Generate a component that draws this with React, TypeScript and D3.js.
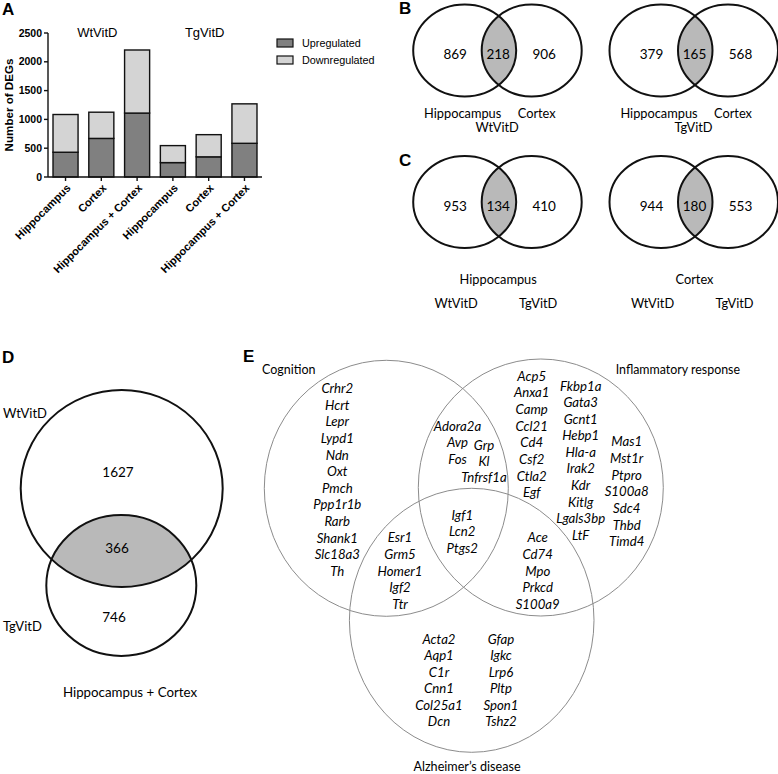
import React from "react";
import * as d3 from "d3";

// ---------- Panel A data ----------
const categories = ["Hippocampus", "Cortex", "Hippocampus + Cortex", "Hippocampus", "Cortex", "Hippocampus + Cortex"];
const upregulated = [430, 670, 1110, 250, 350, 585];
const downregulated = [655, 455, 1095, 295, 385, 685];
const yTicks = [0, 500, 1000, 1500, 2000, 2500];
const groupLabels = ["WtVitD", "TgVitD"];
const legendLabels = ["Upregulated", "Downregulated"];
const yTitle = "Number of DEGs";

// ---------- Panel B / C / D data ----------
const vennBTitles = ["WtVitD", "TgVitD"];
const vennBSets = ["Hippocampus", "Cortex"];
const vennBCounts = [[869, 218, 906], [379, 165, 568]];
const vennCTitles = ["Hippocampus", "Cortex"];
const vennCSets = ["WtVitD", "TgVitD"];
const vennCCounts = [[953, 134, 410], [944, 180, 553]];
const vennDSets = ["WtVitD", "TgVitD"];
const vennDCounts = [1627, 366, 746];
const vennDTitle = "Hippocampus + Cortex";

// ---------- Panel E data ----------
const eSets = ["Cognition", "Inflammatory response", "Alzheimer\u2019s disease"];
const cognitionOnly = ["Crhr2", "Hcrt", "Lepr", "Lypd1", "Ndn", "Oxt", "Pmch", "Ppp1r1b", "Rarb", "Shank1", "Slc18a3", "Th"];
const cogInflamA = ["Adora2a", "Avp", "Fos"];
const cogInflamB = ["Grp", "Kl", "Tnfrsf1a"];
const allThree = ["Igf1", "Lcn2", "Ptgs2"];
const cogAlz = ["Esr1", "Grm5", "Homer1", "Igf2", "Ttr"];
const inflamAlz = ["Ace", "Cd74", "Mpo", "Prkcd", "S100a9"];
const inflamOnly1 = ["Acp5", "Anxa1", "Camp", "Ccl21", "Cd4", "Csf2", "Ctla2", "Egf"];
const inflamOnly2 = ["Fkbp1a", "Gata3", "Gcnt1", "Hebp1", "Hla-a", "Irak2", "Kdr", "Kitlg", "Lgals3bp", "LtF"];
const inflamOnly3 = ["Mas1", "Mst1r", "Ptpro", "S100a8", "Sdc4", "Thbd", "Timd4"];
const alzOnly1 = ["Acta2", "Aqp1", "C1r", "Cnn1", "Col25a1", "Dcn"];
const alzOnly2 = ["Gfap", "Igkc", "Lrp6", "Pltp", "Spon1", "Tshz2"];

const ARIAL = "'Liberation Sans', Arial, sans-serif";
const MYR = "Lato, 'Open Sans', sans-serif";
const FS = 12.8;

function PanelA() {
  const x = d3.scaleBand<number>().domain(d3.range(categories.length)).range([48, 262]).paddingInner(0.3).paddingOuter(0.14);
  const y = d3.scaleLinear().domain([0, 2500]).range([177, 33]);
  const rows = categories.map((c, i) => ({ i, up: upregulated[i], down: downregulated[i] }));
  const stack = d3.stack<any>().keys(["up", "down"])(rows);
  const fills = ["#808080", "#d4d4d4"];
  return (
    <g>
      <text x={2} y={15} fontFamily={ARIAL} fontWeight="bold" fontSize={17}>A</text>
      {stack.map((s, k) =>
        s.map((d, i) => (
          <rect key={k + "-" + i} x={x(i)!} y={y(d[1])} width={x.bandwidth()} height={y(d[0]) - y(d[1])}
            fill={fills[k]} stroke="#111" strokeWidth={1.4} />
        ))
      )}
      <line x1={48} x2={48} y1={33} y2={177} stroke="#111" strokeWidth={1.4} />
      <line x1={48} x2={262} y1={177} y2={177} stroke="#111" strokeWidth={1.4} />
      {yTicks.map((t) => (
        <g key={t}>
          <line x1={44} x2={48} y1={y(t)} y2={y(t)} stroke="#111" strokeWidth={1.4} />
          <text x={42} y={y(t)} dy="0.35em" textAnchor="end" fontFamily={ARIAL} fontWeight="bold" fontSize={10.5}>{t}</text>
        </g>
      ))}
      {categories.map((c, i) => {
        const cx = x(i)! + x.bandwidth() / 2;
        return (
          <g key={i}>
            <line x1={cx} x2={cx} y1={177} y2={181} stroke="#111" strokeWidth={1.4} />
            <text transform={`translate(${cx + 3},${186}) rotate(-45)`} textAnchor="end" dy="0.35em"
              fontFamily={ARIAL} fontWeight="bold" fontSize={11}>{c}</text>
          </g>
        );
      })}
      <text transform="translate(9,105) rotate(-90)" textAnchor="middle" dy="0.35em" fontFamily={ARIAL} fontWeight="bold" fontSize={11.6}>{yTitle}</text>
      {groupLabels.map((g, k) => {
        const cx = (x(k * 3)! + x(k * 3 + 2)! + x.bandwidth()) / 2;
        return <text key={g} x={cx - 4} y={37} textAnchor="middle" fontFamily={ARIAL} fontSize={13}>{g}</text>;
      })}
      {legendLabels.map((l, k) => (
        <g key={l}>
          <rect x={277} y={39 + k * 17} width={16} height={8} fill={fills[k]} stroke="#111" strokeWidth={1.2} />
          <text x={302} y={43 + k * 17} dy="0.35em" fontFamily={ARIAL} fontSize={10.8}>{l}</text>
        </g>
      ))}
    </g>
  );
}

function Venn2({ id, c1, c2, cy, rx1, rx2, ry, counts, offs }: any) {
  const mid = (c1 + c2) / 2;
  return (
    <g>
      <clipPath id={id}><ellipse cx={c2} cy={cy} rx={rx2} ry={ry} /></clipPath>
      <ellipse cx={c1} cy={cy} rx={rx1} ry={ry} fill="#b9b9b9" clipPath={`url(#${id})`} />
      <ellipse cx={c1} cy={cy} rx={rx1} ry={ry} fill="none" stroke="#111" strokeWidth={2} />
      <ellipse cx={c2} cy={cy} rx={rx2} ry={ry} fill="none" stroke="#111" strokeWidth={2} />
      {counts.map((v: number, j: number) => (
        <text key={j} x={mid + offs[j]} y={cy + 4} dy="0.35em" textAnchor="middle" fontFamily={MYR} fontSize={13.5}>{v}</text>
      ))}
    </g>
  );
}

function PanelBC() {
  const pairs = [[464.7, 531.7], [661, 728]];
  return (
    <g>
      <text x={399} y={14} fontFamily={ARIAL} fontWeight="bold" fontSize={17}>B</text>
      <text x={399} y={166} fontFamily={ARIAL} fontWeight="bold" fontSize={17}>C</text>
      {vennBCounts.map((cnt, k) => {
        const [a, b] = pairs[k];
        const mid = (a + b) / 2;
        return (
          <g key={"b" + k}>
            <Venn2 id={"vb" + k} c1={a} c2={b} cy={50.5} rx1={51.5} rx2={50} ry={46} counts={cnt} offs={[-43, 0, 46]} />
            <text x={a - 2} y={114} dy="0.35em" textAnchor="middle" fontFamily={MYR} fontSize={FS}>{vennBSets[0]}</text>
            <text x={b + 5} y={114} dy="0.35em" textAnchor="middle" fontFamily={MYR} fontSize={FS}>{vennBSets[1]}</text>
            <text x={mid - 1} y={128} dy="0.35em" textAnchor="middle" fontFamily={MYR} fontSize={FS}>{vennBTitles[k]}</text>
          </g>
        );
      })}
      {vennCCounts.map((cnt, k) => {
        const [a, b] = pairs[k];
        const mid = (a + b) / 2;
        return (
          <g key={"c" + k}>
            <Venn2 id={"vc" + k} c1={a} c2={b} cy={202} rx1={51.5} rx2={50} ry={46} counts={cnt} offs={[-43, 0, 46]} />
            <text x={mid} y={280} dy="0.35em" textAnchor="middle" fontFamily={MYR} fontSize={FS}>{vennCTitles[k]}</text>
            <text x={mid - 42} y={304} dy="0.35em" textAnchor="middle" fontFamily={MYR} fontSize={FS}>{vennCSets[0]}</text>
            <text x={mid + 40} y={304} dy="0.35em" textAnchor="middle" fontFamily={MYR} fontSize={FS}>{vennCSets[1]}</text>
          </g>
        );
      })}
    </g>
  );
}

function PanelD() {
  return (
    <g>
      <text x={2} y={363} fontFamily={ARIAL} fontWeight="bold" fontSize={17}>D</text>
      <clipPath id="vd"><ellipse cx={121.3} cy={585.5} rx={75} ry={70.5} /></clipPath>
      <ellipse cx={121.7} cy={488.5} rx={101} ry={98.5} fill="#b9b9b9" clipPath="url(#vd)" />
      <ellipse cx={121.7} cy={488.5} rx={101} ry={98.5} fill="none" stroke="#111" strokeWidth={2} />
      <ellipse cx={121.3} cy={585.5} rx={75} ry={70.5} fill="none" stroke="#111" strokeWidth={2} />
      <text x={118} y={472} dy="0.35em" textAnchor="middle" fontFamily={MYR} fontSize={13.5}>{vennDCounts[0]}</text>
      <text x={117} y={548} dy="0.35em" textAnchor="middle" fontFamily={MYR} fontSize={13.5}>{vennDCounts[1]}</text>
      <text x={114} y={617} dy="0.35em" textAnchor="middle" fontFamily={MYR} fontSize={13.5}>{vennDCounts[2]}</text>
      <text x={3} y={413} dy="0.35em" fontFamily={MYR} fontSize={13}>{vennDSets[0]}</text>
      <text x={3} y={626} dy="0.35em" fontFamily={MYR} fontSize={13}>{vennDSets[1]}</text>
      <text x={130} y={692} dy="0.35em" textAnchor="middle" fontFamily={MYR} fontSize={13.3}>{vennDTitle}</text>
    </g>
  );
}

function GeneCol({ genes, x, y0, step = 16.65 }: any) {
  return (
    <g>
      {genes.map((g: string, i: number) => (
        <text key={g} x={x} y={y0 + i * step} dy="0.35em" textAnchor="middle" fontFamily={MYR} fontStyle="italic" fontSize={13.2}>{g}</text>
      ))}
    </g>
  );
}

function PanelE() {
  const circ = [
    { cx: 386.3, cy: 488.3, rx: 122, ry: 128 },
    { cx: 540.8, cy: 487.5, rx: 122.5, ry: 128.5 },
    { cx: 471.7, cy: 620.3, rx: 122.3, ry: 132 },
  ];
  return (
    <g>
      <text x={243} y={362} fontFamily={ARIAL} fontWeight="bold" fontSize={17}>E</text>
      {circ.map((c, i) => (
        <ellipse key={i} cx={c.cx} cy={c.cy} rx={c.rx} ry={c.ry} fill="none" stroke="#8c8c8c" strokeWidth={1} />
      ))}
      <text x={262} y={370} dy="0.35em" fontFamily={MYR} fontSize={12.5}>{eSets[0]}</text>
      <text x={740} y={370} dy="0.35em" textAnchor="end" fontFamily={MYR} fontSize={12.4}>{eSets[1]}</text>
      <text x={467} y={767} dy="0.35em" textAnchor="middle" fontFamily={MYR} fontSize={12.6}>{eSets[2]}</text>
      <GeneCol genes={cognitionOnly} x={337.3} y0={388.3} />
      <GeneCol genes={cogInflamA} x={457.5} y0={426} step={16.5} />
      <GeneCol genes={cogInflamB} x={484} y0={445} step={16.2} />
      <GeneCol genes={allThree} x={462.3} y0={515} />
      <GeneCol genes={cogAlz} x={400} y0={537.7} />
      <GeneCol genes={inflamAlz} x={537.7} y0={537.7} />
      <GeneCol genes={inflamOnly1} x={531.7} y0={376} />
      <GeneCol genes={inflamOnly2} x={580.7} y0={386} step={16.56} />
      <GeneCol genes={inflamOnly3} x={626.7} y0={441.7} />
      <GeneCol genes={alzOnly1} x={439} y0={639} step={16.5} />
      <GeneCol genes={alzOnly2} x={501} y0={639} step={16.5} />
    </g>
  );
}

export default function App() {
  return (
    <svg width={778} height={774} viewBox="0 0 778 774"
      style={{ position: "absolute", left: 0, top: 0, background: "#fff", display: "block" }}>
      <rect width={778} height={774} fill="#fff" />
      <PanelA />
      <PanelBC />
      <PanelD />
      <PanelE />
    </svg>
  );
}
